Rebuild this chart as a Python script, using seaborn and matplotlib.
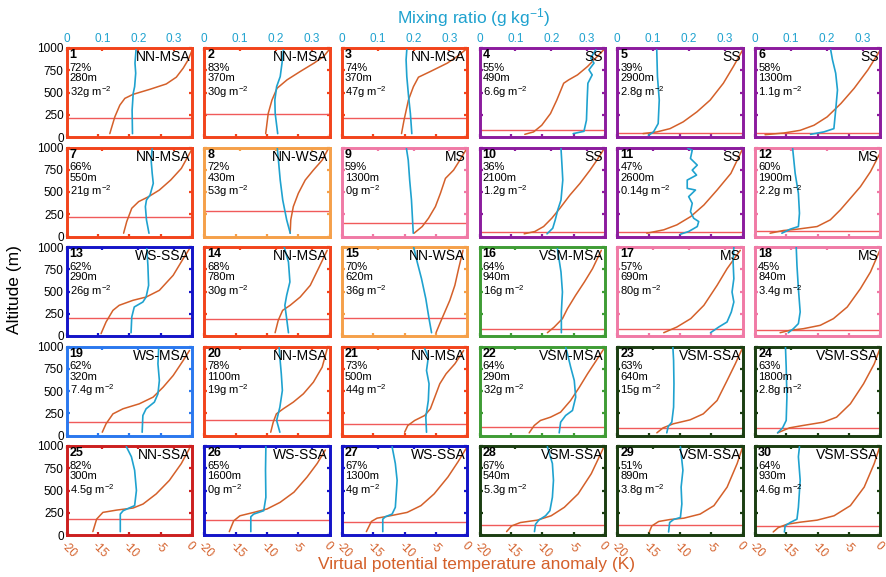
import matplotlib
matplotlib.use("Agg")
import matplotlib.pyplot as plt
import pandas as pd
import seaborn as sns

sns.set_theme(style="white")
plt.rcParams["font.family"] = ["Liberation Sans", "DejaVu Sans"]
plt.rcParams["mathtext.default"] = "regular"

# ---- per-profile metadata -------------------------------------------------
profile_no = list(range(1, 31))
regime = ["NN-MSA", "NN-MSA", "NN-MSA", "SS", "SS", "SS",
          "NN-MSA", "NN-WSA", "MS", "SS", "SS", "MS",
          "WS-SSA", "NN-MSA", "NN-WSA", "VSM-MSA", "MS", "MS",
          "WS-MSA", "NN-MSA", "NN-MSA", "VSM-MSA", "VSM-SSA", "VSM-SSA",
          "NN-SSA", "WS-SSA", "WS-SSA", "VSM-SSA", "VSM-SSA", "VSM-SSA"]
cloud_frac = ["72%", "83%", "74%", "55%", "39%", "58%",
              "66%", "72%", "59%", "36%", "47%", "60%",
              "62%", "68%", "70%", "64%", "57%", "45%",
              "62%", "78%", "73%", "64%", "63%", "63%",
              "82%", "65%", "67%", "67%", "51%", "64%"]
depth = ["280m", "370m", "370m", "490m", "2900m", "1300m",
         "550m", "430m", "1300m", "2100m", "2600m", "1900m",
         "290m", "780m", "620m", "940m", "690m", "840m",
         "320m", "1100m", "500m", "290m", "640m", "1800m",
         "300m", "1600m", "1300m", "540m", "890m", "930m"]
lwp = ["32", "30", "47", "6.6", "2.8", "1.1",
       "21", "53", "0", "1.2", "0.14", "2.2",
       "26", "30", "36", "16", "80", "3.4",
       "7.4", "19", "44", "32", "15", "2.8",
       "4.5", "0", "4", "5.3", "3.8", "4.6"]
inversion_alt = [208, 264, 219, 79, 42, 45,
                 216, 287, 149, 56, 56, 67,
                 202, 195, 206, 82, 82, 64,
                 157, 169, 131, 101, 86, 86,
                 178, 167, 148, 114, 114, 102]

# ---- virtual potential temperature anomaly profiles (altitude m, K) -------
theta_z = [
    [38, 226, 358, 434, 479, 536, 596, 672, 774, 868, 974],
    [38, 264, 415, 547, 642, 736, 830, 906, 989],
    [38, 189, 415, 566, 672, 736, 830, 906, 981],
    [30, 57, 132, 264, 415, 604, 642, 698, 792, 887, 981],
    [38, 57, 94, 170, 283, 415, 604, 792, 981],
    [26, 45, 75, 132, 226, 377, 547, 755, 981],
    [37, 168, 317, 392, 448, 522, 634, 765, 970],
    [37, 187, 336, 485, 634, 746, 858, 989],
    [37, 112, 205, 336, 485, 653, 746, 858, 989],
    [30, 56, 112, 205, 317, 466, 597, 746, 858, 970],
    [37, 75, 131, 224, 354, 522, 709, 989],
    [37, 67, 82, 112, 187, 299, 429, 560, 728, 933],
    [26, 157, 288, 345, 401, 438, 513, 682, 869, 981],
    [37, 176, 288, 345, 438, 569, 757, 963],
    [37, 139, 270, 401, 569, 757, 963],
    [37, 101, 195, 307, 457, 607, 757, 963],
    [37, 101, 195, 345, 569, 757, 963],
    [37, 64, 82, 120, 195, 326, 532, 719, 963],
    [37, 131, 243, 300, 356, 431, 543, 674, 843, 955],
    [37, 150, 243, 300, 375, 468, 599, 768, 974],
    [37, 112, 169, 225, 300, 431, 581, 693, 805, 955],
    [30, 112, 169, 206, 262, 393, 543, 693, 843, 974],
    [30, 86, 131, 176, 243, 393, 618, 805, 974],
    [30, 86, 112, 150, 206, 356, 581, 805, 974],
    [38, 178, 254, 280, 303, 348, 462, 614, 803, 973],
    [38, 159, 216, 254, 292, 367, 481, 652, 803, 955],
    [38, 152, 189, 216, 254, 330, 462, 652, 822, 973],
    [38, 102, 140, 167, 216, 311, 462, 689, 973],
    [34, 102, 152, 174, 189, 235, 330, 538, 803, 973],
    [34, 83, 121, 144, 167, 216, 330, 538, 803, 973],
]
theta_k = [
    [-13.1, -12.3, -11.5, -10.7, -9.4, -6.7, -4.1, -2.5, -1.4, -0.6, 0.0],
    [-10.2, -9.8, -9.2, -8.4, -6.8, -4.7, -2.5, -0.95, 0.0],
    [-10.5, -10.1, -9.4, -8.6, -7.8, -5.9, -3.2, -1.6, -0.3],
    [-12.8, -11.4, -10.1, -8.7, -7.7, -6.6, -5.8, -4.4, -2.8, -1.5, -0.2],
    [-15.9, -13.7, -11.6, -9.5, -7.3, -5.2, -3.1, -1.5, 0.0],
    [-18.4, -15.4, -12.8, -10.6, -8.5, -6.3, -4.2, -2.0, 0.0],
    [-10.9, -10.4, -9.6, -8.5, -6.9, -5.2, -3.4, -1.7, -0.1],
    [-6.3, -6.2, -5.8, -5.0, -3.9, -2.6, -1.2, -0.2],
    [-8.5, -7.2, -6.2, -5.1, -4.3, -3.5, -2.2, -1.2, -0.1],
    [-12.9, -11.2, -9.8, -8.5, -7.2, -5.6, -4.0, -2.4, -1.3, -0.3],
    [-15.3, -12.6, -10.5, -8.3, -6.2, -4.1, -1.9, 0.0],
    [-17.6, -15.5, -13.3, -10.1, -8.0, -6.4, -4.8, -3.2, -1.6, -0.1],
    [-14.5, -13.7, -12.6, -11.6, -9.4, -7.3, -5.2, -3.0, -1.4, -0.4],
    [-8.7, -8.2, -7.5, -6.3, -4.7, -3.1, -1.8, -0.4],
    [-5.0, -4.4, -3.6, -2.8, -2.0, -1.4, -0.7],
    [-9.2, -8.1, -6.8, -6.0, -4.7, -3.3, -2.0, -0.6],
    [-12.6, -10.5, -8.3, -6.2, -4.1, -2.5, -0.4],
    [-16.0, -14.4, -12.3, -9.6, -7.5, -5.3, -3.2, -1.6, -0.1],
    [-14.3, -13.7, -12.6, -11.0, -8.4, -6.2, -4.6, -3.0, -1.4, -0.4],
    [-9.4, -9.0, -8.5, -7.4, -5.8, -4.2, -2.6, -1.2, -0.4],
    [-10.0, -9.5, -8.4, -6.8, -5.9, -5.2, -4.4, -3.4, -2.0, -0.6],
    [-12.1, -11.3, -10.3, -8.7, -7.1, -5.5, -4.1, -2.8, -1.4, -0.2],
    [-13.7, -12.7, -11.1, -8.4, -6.3, -4.1, -2.5, -1.2, -0.1],
    [-16.4, -14.5, -12.4, -9.1, -7.0, -4.8, -2.7, -1.0, -0.1],
    [-15.8, -15.2, -14.2, -12.0, -9.4, -7.8, -5.7, -3.6, -1.7, -0.4],
    [-16.0, -15.3, -14.3, -12.1, -10.0, -7.9, -5.7, -3.6, -2.0, -0.7],
    [-16.1, -15.3, -14.4, -12.3, -9.6, -7.4, -5.3, -3.1, -1.5, -0.2],
    [-15.7, -14.9, -13.5, -10.8, -8.6, -6.5, -4.3, -2.2, -0.3],
    [-14.9, -14.5, -13.4, -11.6, -9.4, -6.8, -4.6, -2.5, -0.9, -0.1],
    [-17.1, -16.3, -14.9, -12.8, -10.1, -7.4, -4.8, -2.6, -1.0, -0.2],
]

# ---- mixing ratio profiles (altitude m, g/kg) -----------------------------
mr_z = [
    [38, 302, 490, 566, 717, 830, 981],
    [38, 264, 415, 566, 679, 830, 981],
    [38, 264, 453, 679, 868, 981],
    [38, 64, 189, 415, 604, 698, 755, 830, 887, 981],
    [19, 57, 151, 415, 679, 981],
    [30, 57, 94, 302, 528, 717, 868, 981],
    [37, 187, 336, 410, 466, 597, 709, 858, 989],
    [37, 187, 410, 634, 858, 989],
    [37, 187, 410, 634, 858, 989],
    [30, 93, 187, 299, 410, 634, 783, 989],
    [26, 56, 112, 168, 205, 280, 373, 448, 522, 541, 634, 690, 746, 802, 877, 970, 989],
    [37, 82, 112, 261, 485, 709, 989],
    [37, 213, 326, 382, 438, 569, 794, 981],
    [37, 195, 345, 457, 607, 831, 1000],
    [37, 195, 419, 644, 831, 1000],
    [37, 270, 494, 719, 981],
    [37, 101, 157, 270, 382, 494, 644, 831, 1000],
    [37, 82, 139, 270, 532, 794, 1000],
    [37, 225, 300, 375, 468, 618, 805, 974],
    [37, 169, 318, 506, 693, 880, 993],
    [37, 206, 393, 581, 730, 880, 974],
    [30, 150, 225, 281, 431, 618, 768, 918, 993],
    [30, 101, 150, 318, 581, 843, 993],
    [30, 86, 169, 431, 768, 993],
    [38, 235, 273, 330, 500, 727, 879, 992],
    [38, 205, 235, 273, 424, 727, 992],
    [38, 178, 205, 235, 311, 614, 803, 992],
    [38, 121, 167, 216, 273, 424, 614, 803, 992],
    [34, 140, 174, 197, 348, 538, 727, 992],
    [34, 102, 140, 178, 311, 614, 879, 992],
]
mr_g = [
    [0.184, 0.183, 0.186, 0.190, 0.193, 0.191, 0.194],
    [0.205, 0.198, 0.197, 0.202, 0.212, 0.217, 0.221],
    [0.195, 0.191, 0.186, 0.181, 0.179, 0.181],
    [0.261, 0.291, 0.298, 0.300, 0.302, 0.314, 0.305, 0.319, 0.310, 0.324],
    [0.087, 0.101, 0.114, 0.117, 0.112, 0.110],
    [0.155, 0.192, 0.220, 0.225, 0.230, 0.225, 0.216, 0.211],
    [0.230, 0.223, 0.220, 0.223, 0.233, 0.242, 0.239, 0.236, 0.239],
    [0.240, 0.230, 0.219, 0.212, 0.207, 0.204],
    [0.199, 0.197, 0.194, 0.189, 0.185, 0.180],
    [0.188, 0.204, 0.211, 0.218, 0.227, 0.232, 0.230, 0.227],
    [0.176, 0.199, 0.223, 0.227, 0.213, 0.204, 0.209, 0.199, 0.218, 0.195,
     0.195, 0.221, 0.209, 0.223, 0.204, 0.209, 0.197],
    [0.075, 0.098, 0.121, 0.124, 0.121, 0.112, 0.105],
    [0.180, 0.182, 0.189, 0.213, 0.222, 0.229, 0.227, 0.224],
    [0.235, 0.230, 0.225, 0.230, 0.239, 0.235, 0.223],
    [0.250, 0.243, 0.234, 0.222, 0.210, 0.200],
    [0.228, 0.228, 0.231, 0.227, 0.217],
    [0.260, 0.283, 0.306, 0.318, 0.325, 0.320, 0.325, 0.323, 0.325],
    [0.093, 0.107, 0.121, 0.126, 0.121, 0.117, 0.115],
    [0.211, 0.213, 0.222, 0.245, 0.255, 0.259, 0.255, 0.257],
    [0.211, 0.202, 0.211, 0.218, 0.215, 0.211, 0.209],
    [0.236, 0.234, 0.241, 0.243, 0.236, 0.241, 0.231],
    [0.222, 0.226, 0.240, 0.259, 0.268, 0.264, 0.254, 0.245, 0.240],
    [0.138, 0.142, 0.152, 0.157, 0.158, 0.157, 0.155],
    [0.063, 0.077, 0.087, 0.089, 0.087, 0.085],
    [0.150, 0.150, 0.158, 0.190, 0.195, 0.190, 0.181, 0.167],
    [0.130, 0.130, 0.138, 0.166, 0.172, 0.171, 0.172],
    [0.114, 0.114, 0.121, 0.140, 0.149, 0.154, 0.149, 0.140],
    [0.153, 0.156, 0.165, 0.184, 0.196, 0.203, 0.206, 0.203, 0.189],
    [0.143, 0.146, 0.157, 0.176, 0.180, 0.178, 0.183, 0.176],
    [0.082, 0.084, 0.098, 0.117, 0.121, 0.126, 0.121, 0.124],
]

theta_ticks = [-20, -15, -10, -5, 0]
theta_ticklabels = ["-20", "-15", "-10", "-5", "0"]
mr_ticks = [0, 0.1, 0.2, 0.3]
mr_ticklabels = ["0", "0.1", "0.2", "0.3"]
alt_ticks = [0, 250, 500, 750, 1000]

# ---- styling ---------------------------------------------------------------
regime_color = {
    "NN-MSA": "#f2441c",
    "NN-WSA": "#f5a04a",
    "NN-SSA": "#cc1f1f",
    "SS": "#8c1c9e",
    "MS": "#f07aa6",
    "WS-SSA": "#1414c8",
    "WS-MSA": "#2b78ee",
    "VSM-MSA": "#3f9c35",
    "VSM-SSA": "#1b3e12",
}
THETA_COLOR = "#d4602a"
MR_COLOR = "#1fa2cf"
INV_COLOR = "#f05a5a"

W, H = 886, 577
fig = plt.figure(figsize=(W / 100, H / 100), dpi=100)
col_left = [66.5, 204.2, 341.9, 479.6, 617.3, 755.0]
row_top = [48, 147.5, 247, 346.5, 446]
pw, ph = 125.5, 89


def frame(axis, col):
    for sp in axis.spines.values():
        sp.set_visible(True)
        sp.set_color(col)
        sp.set_linewidth(1.9)


for i in range(30):
    r, c = divmod(i, 6)
    col = regime_color[regime[i]]
    ax = fig.add_axes([col_left[c] / W, (H - row_top[r] - ph) / H, pw / W, ph / H])
    ax.set_facecolor("white")

    ax.axhline(inversion_alt[i], color=INV_COLOR, lw=1.0, zorder=1)
    df_t = pd.DataFrame({"alt": theta_z[i], "theta": theta_k[i]})
    sns.lineplot(data=df_t, x="theta", y="alt", orient="y", sort=False,
                 estimator=None, color=THETA_COLOR, lw=1.1, ax=ax, zorder=3)
    ax.set_xlim(-20, 0)
    ax.set_ylim(0, 1000)
    ax.set_xlabel("")
    ax.set_ylabel("")
    ax.set_xticks(theta_ticks)
    ax.set_yticks(alt_ticks)
    ax.tick_params(axis="both", direction="in", length=2.5, width=1.6,
                   color=col, left=True, right=True, bottom=True, top=False)
    if r == 4:
        ax.set_xticklabels(theta_ticklabels, rotation=-45, ha="left",
                           rotation_mode="anchor", color=THETA_COLOR, fontsize=8.5)
        ax.tick_params(axis="x", pad=3)
    else:
        ax.set_xticklabels([])
    if c == 0:
        ax.set_yticklabels([str(v) for v in alt_ticks], fontsize=8.5, color="black")
        ax.tick_params(axis="y", pad=2)
    else:
        ax.set_yticklabels([])

    ax2 = ax.twiny()
    df_q = pd.DataFrame({"alt": mr_z[i], "q": mr_g[i]})
    sns.lineplot(data=df_q, x="q", y="alt", orient="y", sort=False,
                 estimator=None, color=MR_COLOR, lw=1.2, ax=ax2, zorder=3)
    ax2.set_xlim(0, 0.35)
    ax2.set_ylim(0, 1000)
    ax2.set_xlabel("")
    ax2.set_ylabel("")
    ax2.set_xticks(mr_ticks)
    ax2.tick_params(axis="x", direction="in", length=2.5, width=1.6, color=col,
                    top=True, bottom=False)
    if r == 0:
        ax2.set_xticklabels(mr_ticklabels, color=MR_COLOR, fontsize=8.5)
        ax2.tick_params(axis="x", pad=2)
    else:
        ax2.set_xticklabels([])
    frame(ax, col)
    frame(ax2, col)

    # panel annotations
    ax2.text(0.025, 0.985, str(profile_no[i]), transform=ax2.transAxes,
             fontsize=9, fontweight="bold", va="top", ha="left", color="black")
    ax2.text(0.025, 0.835, cloud_frac[i], transform=ax2.transAxes,
             fontsize=8, va="top", ha="left", color="black")
    ax2.text(0.025, 0.715, depth[i], transform=ax2.transAxes,
             fontsize=8, va="top", ha="left", color="black")
    ax2.text(0.025, 0.595, lwp[i] + "g m$^{-2}$", transform=ax2.transAxes,
             fontsize=8, va="top", ha="left", color="black")
    ax2.text(0.985, 0.975, regime[i], transform=ax2.transAxes,
             fontsize=10, va="top", ha="right", color="black")

fig.text(15 / W, 1 - 290 / H, "Altitude (m)", rotation=90, fontsize=12.5,
         ha="center", va="center", color="black")
fig.text(474 / W, 1 - 18 / H, "Mixing ratio (g kg$^{-1}$)", fontsize=12.5,
         ha="center", va="center", color=MR_COLOR)
fig.text(476 / W, 1 - 565 / H, "Virtual potential temperature anomaly (K)",
         fontsize=12.5, ha="center", va="center", color=THETA_COLOR)

fig.savefig("out.png", dpi=100, facecolor="white")
